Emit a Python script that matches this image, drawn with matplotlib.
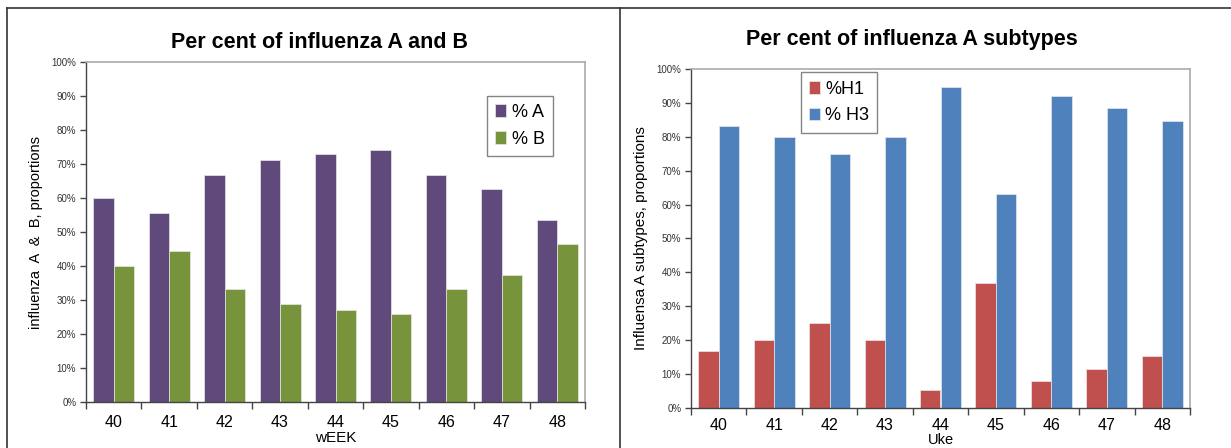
import matplotlib
matplotlib.use("Agg")
import matplotlib.pyplot as plt
import numpy as np
from matplotlib.ticker import PercentFormatter, FixedLocator
from matplotlib.lines import Line2D

plt.rcParams['font.family'] = ['Liberation Sans', 'DejaVu Sans']

weeks = ["40", "41", "42", "43", "44", "45", "46", "47", "48"]
pct_A = [60.0, 55.5, 66.7, 71.3, 73.0, 74.0, 66.7, 62.7, 53.6]
pct_B = [40.0, 44.5, 33.3, 28.7, 27.0, 26.0, 33.3, 37.3, 46.4]
pct_H1 = [16.7, 20.0, 25.0, 20.0, 5.3, 37.0, 8.0, 11.5, 15.4]
pct_H3 = [83.3, 80.0, 75.0, 80.0, 94.7, 63.0, 92.0, 88.5, 84.6]

W, H = 1231, 448
fig = plt.figure(figsize=(W / 100, H / 100), dpi=100)

def px(x0, y0, x1, y1):
    return [x0 / W, 1 - y1 / H, (x1 - x0) / W, (y1 - y0) / H]

def panel(rect, s1, s2, c1, c2, l1, l2, ylabel, xlabel, leg_anchor, ylfs, tpad, xlfs, xlpad):
    ax = fig.add_axes(px(*rect))
    x = np.arange(len(weeks))
    bw = 0.37
    ax.bar(x - bw / 2, s1, bw, color=c1, label=l1, edgecolor='#e8e8e8', linewidth=0.5)
    ax.bar(x + bw / 2, s2, bw, color=c2, label=l2, edgecolor='#e8e8e8', linewidth=0.5)
    ax.set_xlim(-0.5, len(weeks) - 0.5)
    ax.set_ylim(0, 100)
    ax.yaxis.set_major_locator(FixedLocator(np.arange(0, 101, 10)))
    ax.yaxis.set_major_formatter(PercentFormatter(decimals=0))
    ax.set_xticks(x)
    ax.set_xticklabels(weeks, fontsize=11.5)
    ax.tick_params(axis='x', length=0, pad=tpad)
    ax.set_xticks(np.arange(-0.5, len(weeks)), minor=True)
    ax.tick_params(axis='x', which='minor', length=5, width=1, color='#444444')
    ax.tick_params(axis='y', labelsize=7, length=4, width=1, color='#444444', pad=3, labelcolor='#333333')
    for s in ['top', 'right']:
        ax.spines[s].set_color('#aaaaaa')
        ax.spines[s].set_linewidth(1.2)
    for s in ['left', 'bottom']:
        ax.spines[s].set_color('#444444')
        ax.spines[s].set_linewidth(1.0)
    ax.set_ylabel(ylabel, fontsize=ylfs, labelpad=6)
    ax.set_xlabel(xlabel, fontsize=xlfs, labelpad=xlpad)
    leg = ax.legend(loc='upper left', bbox_to_anchor=leg_anchor, fontsize=13,
                    frameon=True, fancybox=False, edgecolor='#666666',
                    handlelength=0.6, handleheight=0.7, handletextpad=0.3,
                    borderpad=0.45, labelspacing=0.55, borderaxespad=0)
    leg.get_frame().set_linewidth(1.0)
    return ax

ax1 = panel((86, 62, 585, 402), pct_A, pct_B, '#604A7B', '#77933C', '% A', '% B',
            'influenza  A  &  B, proportions', 'wEEK', (0.804, 0.9), 10.5, 9, 11, 1)
ax2 = panel((691, 69, 1190, 408), pct_H1, pct_H3, '#C0504D', '#4F81BD', '%H1', '% H3',
            'Influensa A subtypes, proportions', 'Uke', (0.22, 0.99), 11, 7, 10.5, 0)

fig.text(320 / W, 1 - 43 / H, 'Per cent of influenza A and B', ha='center', va='center',
         fontsize=15.5, fontweight='bold')
fig.text(912 / W, 1 - 40 / H, 'Per cent of influenza A subtypes', ha='center', va='center',
         fontsize=15.5, fontweight='bold')

# panel borders
for (xs, ys) in [((7 / W, 7 / W), (0, 1 - 8 / H)),
                 ((7 / W, 1), (1 - 8 / H, 1 - 8 / H)),
                 ((620 / W, 620 / W), (0, 1 - 8 / H))]:
    fig.add_artist(Line2D(xs, ys, color='#333333', linewidth=1.2, transform=fig.transFigure))

fig.savefig('out.png', dpi=100)
